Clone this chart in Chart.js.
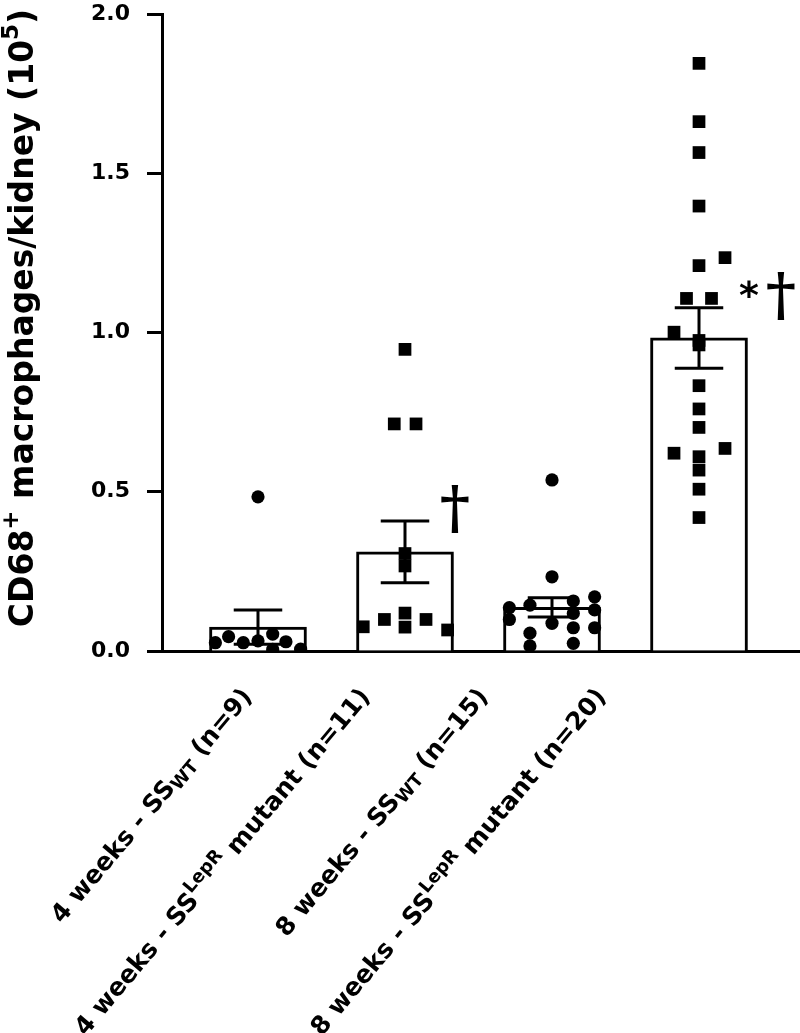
<!DOCTYPE html>
<html lang="en">
<head>
<meta charset="UTF-8">
<title>CD68+ macrophages per kidney</title>
<script src="https://cdn.jsdelivr.net/npm/chart.js"></script>
<style>
    html, body { margin: 0; padding: 0; background: #fff; }
    .chart-box { width: 800px; height: 1033px; }
</style>
</head>
<body>
<div class="chart-box"><canvas id="macrophage-chart"></canvas></div>
<script>
// text pieces: [text, '' | 'sup' | 'sub']
const groupLabels = [
    [['4 weeks - SS', ''], ['WT', 'sub'], [' (n=9)', '']],
    [['4 weeks - SS', ''], ['LepR', 'sup'], [' mutant (n=11)', '']],
    [['8 weeks - SS', ''], ['WT', 'sub'], [' (n=15)', '']],
    [['8 weeks - SS', ''], ['LepR', 'sup'], [' mutant (n=20)', '']]
];
const titleParts = [['CD68', ''], ['+', 'sup'], [' macrophages/kidney (10', ''], ['5', 'sup'], [')', '']];
const yTicks = [0, 0.5, 1.0, 1.5, 2.0];

// bar = mean, whisker = SEM
const groupMeans = [0.075, 0.311, 0.137, 0.983];
const groupSem = [0.054, 0.097, 0.030, 0.095];
const significance = [[], ['†'], [], ['*', '†']];

// individual kidneys, with the sideways spread used in the figure
const wt4Values = [0.484, 0.026, 0.045, 0.026, 0.032, 0.053, 0.005, 0.029, 0.006];
const wt4Spread = [0, -0.29, -0.20, -0.10, 0, 0.10, 0.10, 0.19, 0.29];

const mut4Values = [0.947, 0.713, 0.713, 0.306, 0.267, 0.099, 0.119, 0.075, 0.099, 0.076, 0.066];
const mut4Spread = [0, -0.073, 0.075, 0, 0, -0.14, 0, 0, 0.143, -0.284, 0.29];

const wt8Values = [0.537, 0.233, 0.136, 0.099, 0.144, 0.056, 0.016, 0.087, 0.157, 0.118, 0.073, 0.024, 0.170, 0.129, 0.073];
const wt8Spread = [0, 0, -0.29, -0.29, -0.15, -0.15, -0.15, 0, 0.145, 0.145, 0.145, 0.145, 0.29, 0.29, 0.29];

const mut8Values = [1.845, 1.662, 1.565, 1.397, 1.210, 1.235, 1.107, 1.107, 1.001, 0.975, 0.961, 0.833, 0.760, 0.702, 0.621, 0.636, 0.610, 0.568, 0.508, 0.419];
const mut8Spread = [0, 0, 0, 0, 0, 0.177, -0.085, 0.085, -0.17, 0, 0, 0, 0, 0, -0.17, 0.177, 0, 0, 0, 0];

const FONT = "'DejaVu Sans', 'Liberation Sans', Arial, sans-serif";

function drawRich(ctx, parts, size, x, y, angle, align) {
    const small = Math.round(size * 0.7);
    const fontFor = kind => 'bold ' + (kind ? small : size) + 'px ' + FONT;
    ctx.save();
    ctx.translate(x, y);
    ctx.rotate(angle);
    ctx.textBaseline = 'alphabetic';
    ctx.textAlign = 'left';
    let total = 0;
    const widths = parts.map(p => {
        ctx.font = fontFor(p[1]);
        const w = ctx.measureText(p[0]).width;
        total += w;
        return w;
    });
    let cx = align === 'right' ? -total : (align === 'center' ? -total / 2 : 0);
    parts.forEach((p, i) => {
        ctx.font = fontFor(p[1]);
        let dy = 0;
        if (p[1] === 'sup') dy = -size * 0.45;
        if (p[1] === 'sub') dy = size * 0.15;
        ctx.fillText(p[0], cx, dy);
        cx += widths[i];
    });
    ctx.restore();
}

const errorBars = {
    id: 'errorBars',
    afterDatasetDraw(chart, args) {
        if (args.meta.type !== 'bar') return;
        const { ctx, scales: { x, y } } = chart;
        ctx.save();
        ctx.strokeStyle = '#000';
        ctx.lineWidth = 3;
        groupMeans.forEach((m, i) => {
            const cx = x.getPixelForValue(i + 1);
            const half = x.getPixelForValue(i + 1.165) - cx;
            const top = y.getPixelForValue(m + groupSem[i]);
            const bot = y.getPixelForValue(m - groupSem[i]);
            ctx.beginPath();
            ctx.moveTo(cx, top); ctx.lineTo(cx, bot);
            ctx.moveTo(cx - half, top); ctx.lineTo(cx + half, top);
            ctx.moveTo(cx - half, bot); ctx.lineTo(cx + half, bot);
            ctx.stroke();
        });
        ctx.restore();
    }
};

const textLayer = {
    id: 'textLayer',
    afterDraw(chart) {
        const { ctx, chartArea, scales: { x, y } } = chart;
        ctx.save();
        ctx.fillStyle = '#000';

        // axis title
        drawRich(ctx, titleParts, 33, 33, 318, -Math.PI / 2, 'center');

        // rotated group labels under the axis
        groupLabels.forEach((parts, i) => {
            drawRich(ctx, parts, 25, chartArea.left + 91 + i * 118, chartArea.bottom + 46, -50 * Math.PI / 180, 'right');
        });

        // significance marks beside the whiskers
        ctx.textAlign = 'center';
        ctx.textBaseline = 'middle';
        significance.forEach((marks, i) => {
            const top = y.getPixelForValue(groupMeans[i] + groupSem[i]);
            let mx = x.getPixelForValue(i + 1.34);
            marks.forEach(m => {
                if (m === '*') {
                    ctx.font = 'bold 38px ' + FONT;
                    ctx.fillText(m, mx, top - 10);
                } else {
                    ctx.font = "bold 58px 'DejaVu Serif', 'Liberation Serif', serif";
                    ctx.fillText(m, mx, top - 9);
                }
                mx += 32;
            });
        });
        ctx.restore();
    }
};

function groupPoints(values, spread, pos) {
    return values.map((v, i) => ({ x: pos + spread[i], y: v }));
}

const pointSets = [
    { data: groupPoints(wt4Values, wt4Spread, 1), style: 'circle' },
    { data: groupPoints(mut4Values, mut4Spread, 2), style: 'rect' },
    { data: groupPoints(wt8Values, wt8Spread, 3), style: 'circle' },
    { data: groupPoints(mut8Values, mut8Spread, 4), style: 'rect' }
];

new Chart(document.getElementById('macrophage-chart'), {
    type: 'scatter',
    data: {
        datasets: [
            {
                type: 'bar',
                data: groupMeans.map((m, i) => ({ x: i + 1, y: m })),
                backgroundColor: '#fff',
                borderColor: '#000',
                borderWidth: 3,
                // two thirds of the spacing between groups
                barThickness: c => {
                    const xs = c.chart.scales.x;
                    return (xs.getPixelForValue(2) - xs.getPixelForValue(1)) * 0.66;
                },
                order: 2
            },
            ...pointSets.map(s => ({
                data: s.data,
                pointStyle: s.style,
                pointRadius: s.style === 'rect' ? 9 : 6.6,
                pointBackgroundColor: '#000',
                pointBorderWidth: 0,
                order: 1
            }))
        ]
    },
    options: {
        responsive: true,
        maintainAspectRatio: false,
        animation: false,
        events: [],
        layout: { autoPadding: false, padding: { top: 14, right: 0, left: 0, bottom: 0 } },
        plugins: { legend: { display: false }, tooltip: { enabled: false } },
        scales: {
            x: {
                type: 'linear',
                offset: false,
                min: 0.347,
                max: 4.687,
                grid: { display: false, offset: false },
                ticks: { display: false },
                border: { display: true, color: '#000', width: 3 },
                afterFit(scale) { scale.height = 382; }
            },
            y: {
                min: 0,
                max: 2,
                afterBuildTicks(scale) { scale.ticks = yTicks.map(v => ({ value: v })); },
                grid: {
                    drawOnChartArea: false,
                    drawTicks: true,
                    tickLength: 15,
                    tickWidth: 3,
                    tickColor: '#000'
                },
                border: { display: true, color: '#000', width: 3 },
                ticks: {
                    color: '#000',
                    padding: 17,
                    font: { family: FONT, weight: 'bold', size: 22 },
                    callback: v => v.toFixed(1)
                },
                afterFit(scale) {
                    scale.width = 162;
                    scale.paddingTop = 0;
                    scale.paddingBottom = 0;
                }
            }
        }
    },
    plugins: [errorBars, textLayer]
});
</script>
</body>
</html>
